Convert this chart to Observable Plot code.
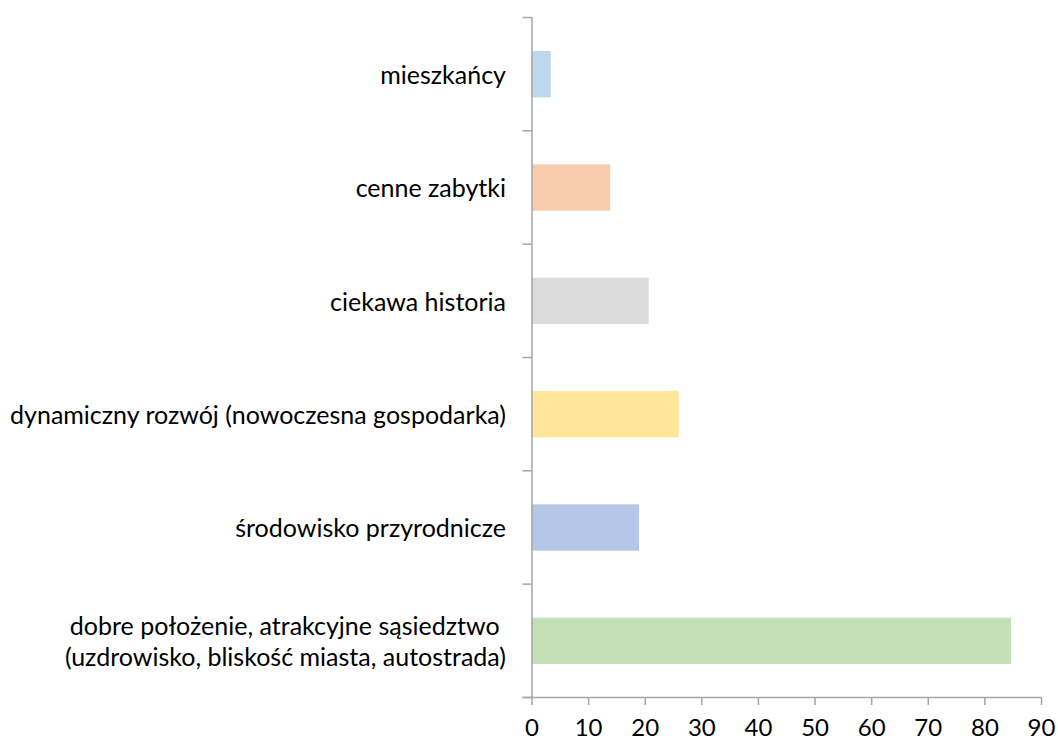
<!DOCTYPE html>
<html>
<head>
<meta charset="utf-8">
<script src="https://cdn.jsdelivr.net/npm/d3@7"></script>
<script src="https://cdn.jsdelivr.net/npm/@observablehq/plot@0.6"></script>
<style>
  html, body { margin: 0; padding: 0; background: #fff; }
  #chart svg { display: block; }
</style>
</head>
<body>
<div id="chart"></div>
<script>
const categories = [
  "mieszkańcy",
  "cenne zabytki",
  "ciekawa historia",
  "dynamiczny rozwój (nowoczesna gospodarka)",
  "środowisko przyrodnicze",
  "dobre położenie, atrakcyjne sąsiedztwo \n(uzdrowisko, bliskość miasta, autostrada)"
];
const values = [3.4, 13.9, 20.7, 26.0, 19.0, 84.7];
const colors = ["#BDD7EE", "#F8CBAD", "#DBDBDB", "#FFE699", "#B4C7E7", "#C5E0B4"];
const xTicks = [0, 10, 20, 30, 40, 50, 60, 70, 80, 90];

const data = categories.map((c, i) => ({name: c, value: values[i], color: colors[i], i}));
const axisColor = "#a6a6a6";
const font = "Lato, 'Open Sans', sans-serif";

const chart = Plot.plot({
  width: 1058,
  height: 742,
  marginLeft: 531.5,
  marginRight: 17,
  marginTop: 17,
  marginBottom: 45,
  style: {fontFamily: font, fontSize: "25px", color: "#000", background: "#fff"},
  x: {domain: [0, 90]},
  y: {domain: [0, categories.length], reverse: true},
  marks: [
    Plot.rectX(data, {
      x1: 0, x2: "value",
      y1: d => d.i, y2: d => d.i + 1,
      insetTop: 34, insetBottom: 33,
      fill: "color"
    }),
    Plot.text(data, {
      x: 0, y: d => d.i + 0.5, text: "name",
      textAnchor: "end", dx: -26, lineHeight: 1.24,
      fontSize: 25, fill: "#000"
    }),
    Plot.axisY({
      ticks: d3.range(categories.length + 1),
      tickFormat: () => "",
      tickSize: 9,
      stroke: axisColor,
      strokeWidth: 1.5,
      label: null
    }),
    Plot.ruleX([0], {stroke: axisColor, strokeWidth: 1.5}),
    Plot.ruleY([categories.length], {stroke: axisColor, strokeWidth: 1.5, insetLeft: -9}),
    Plot.axisX({
      ticks: xTicks,
      tickFormat: d => String(d),
      tickSize: 8,
      tickPadding: 13,
      stroke: axisColor,
      strokeWidth: 1.5,
      fill: "#000",
      fontSize: 24,
      label: null
    })
  ]
});

document.getElementById("chart").appendChild(chart);
</script>
</body>
</html>
